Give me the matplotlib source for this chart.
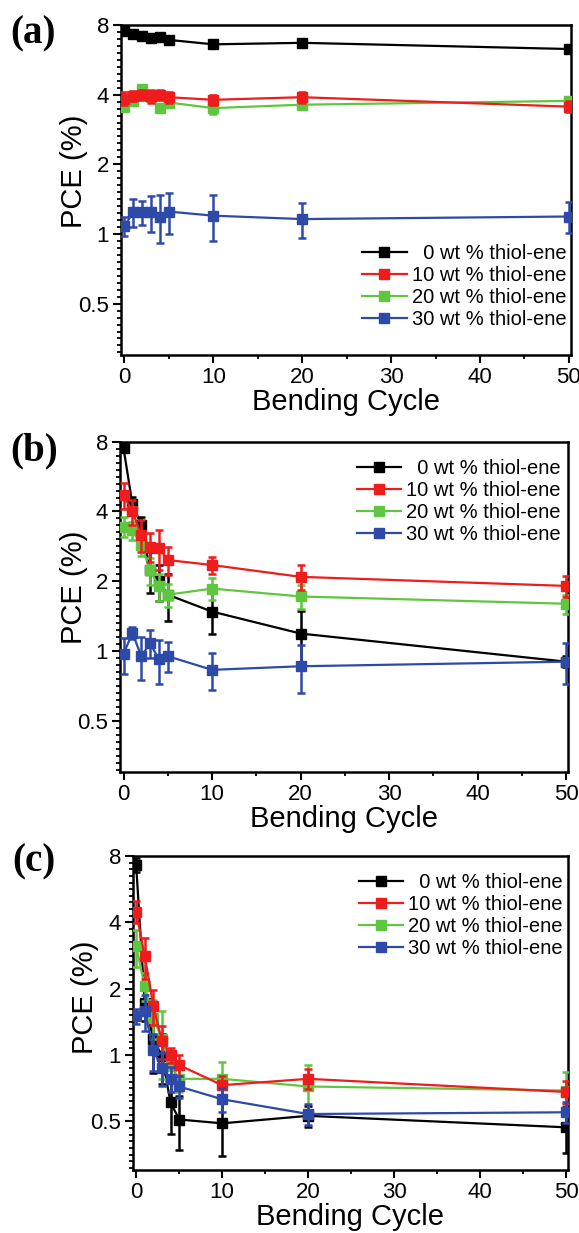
import numpy as np
import matplotlib
matplotlib.use('Agg')
import matplotlib.pyplot as plt
from matplotlib.ticker import FixedLocator, FixedFormatter, NullFormatter

plt.rcParams['font.family'] = ['Liberation Sans', 'DejaVu Sans']

# bending cycles and series labels
cycles = [0, 1, 2, 3, 4, 5, 10, 20, 50]
labels = ['  0 wt % thiol-ene', '10 wt % thiol-ene', '20 wt % thiol-ene', '30 wt % thiol-ene']
colors = ['#000000', '#ee1c1c', '#5fc640', '#2e4aa8']

# (a) PCE values and errors
pce_a0 = [7.5, 7.3, 7.2, 7.05, 7.1, 6.9, 6.6, 6.7, 6.3]
err_a0 = [0.2, 0.15, 0.15, 0.15, 0.3, 0.2, 0.25, 0.2, 0.2]
pce_a10 = [3.85, 3.95, 4.0, 3.95, 4.0, 3.9, 3.8, 3.9, 3.55]
err_a10 = [0.25, 0.2, 0.2, 0.25, 0.2, 0.2, 0.2, 0.2, 0.2]
pce_a20 = [3.55, 3.75, 4.25, 3.9, 3.5, 3.7, 3.5, 3.62, 3.76]
err_a20 = [0.15, 0.15, 0.12, 0.15, 0.15, 0.12, 0.2, 0.12, 0.15]
pce_a30 = [1.08, 1.24, 1.24, 1.24, 1.19, 1.25, 1.2, 1.16, 1.19]
err_a30 = [0.1, 0.17, 0.15, 0.22, 0.28, 0.25, 0.27, 0.2, 0.18]

# (b)
pce_b0 = [7.5, 4.3, 3.5, 2.23, 2.0, 1.75, 1.48, 1.19, 0.9]
err_b0 = [0.2, 0.3, 0.3, 0.45, 0.35, 0.4, 0.3, 0.3, 0.05]
pce_b10 = [4.7, 4.0, 3.17, 2.82, 2.78, 2.47, 2.35, 2.09, 1.91]
err_b10 = [0.6, 0.5, 0.5, 0.4, 0.55, 0.35, 0.2, 0.25, 0.2]
pce_b20 = [3.44, 3.32, 2.87, 2.23, 1.9, 1.75, 1.86, 1.72, 1.6]
err_b20 = [0.35, 0.3, 0.3, 0.3, 0.25, 0.2, 0.2, 0.2, 0.15]
pce_b30 = [0.97, 1.2, 0.95, 1.08, 0.92, 0.95, 0.83, 0.86, 0.9]
err_b30 = [0.17, 0.07, 0.2, 0.15, 0.2, 0.14, 0.15, 0.2, 0.18]

# (c)
pce_c0 = [7.3, 1.73, 1.18, 0.99, 0.61, 0.51, 0.49, 0.53, 0.47]
err_c0 = [0.5, 0.3, 0.35, 0.25, 0.17, 0.14, 0.14, 0.06, 0.11]
pce_c10 = [4.48, 2.81, 1.67, 1.16, 1.0, 0.9, 0.73, 0.78, 0.68]
err_c10 = [0.5, 0.6, 0.3, 0.2, 0.08, 0.1, 0.07, 0.08, 0.08]
pce_c20 = [3.11, 2.05, 1.48, 1.18, 0.89, 0.78, 0.78, 0.72, 0.69]
err_c20 = [0.6, 0.3, 0.3, 0.4, 0.1, 0.1, 0.15, 0.18, 0.15]
pce_c30 = [1.5, 1.58, 1.05, 0.87, 0.78, 0.72, 0.63, 0.54, 0.55]
err_c30 = [0.12, 0.3, 0.2, 0.15, 0.1, 0.08, 0.08, 0.06, 0.06]

yticks = [0.5, 1, 2, 4, 8]
ytick_labels = ['0.5', '1', '2', '4', '8']

W, H = 579, 1233
fig = plt.figure(figsize=(W / 100, H / 100), dpi=100)

# axes boxes in pixels: left, right, top, bottom
boxes = [(120.7, 570.7, 25, 355), (120, 568, 441.7, 772.3), (132.7, 568, 856, 1170.3)]
panels = [
    ('(a)', [pce_a0, pce_a10, pce_a20, pce_a30], [err_a0, err_a10, err_a20, err_a30],
     (0.99, 0.2076), 34, 10, (-0.073, 0.557)),
    ('(b)', [pce_b0, pce_b10, pce_b20, pce_b30], [err_b0, err_b10, err_b20, err_b30],
     (0.984, 0.82), 451, 10, (-0.072, 0.561)),
    ('(c)', [pce_c0, pce_c10, pce_c20, pce_c30], [err_c0, err_c10, err_c20, err_c30],
     (0.9885, 0.8117), 862, 12, (-0.0775, 0.551)),
]
# draw order: black, green, red, blue
order = [0, 2, 1, 3]

minor = [2 ** (k + i / 10.0) for k in range(-3, 3) for i in range(1, 10)]

for (l, r, t, b), (tag, vals, errs, leg_pos, tag_y, tag_x, ylab_pos) in zip(boxes, panels):
    ax = fig.add_axes([l / W, 1 - b / H, (r - l) / W, (b - t) / H])
    handles = [None] * 4
    for z, i in enumerate(order):
        ax.errorbar(cycles, vals[i], yerr=errs[i], fmt='none', ecolor=colors[i],
                    elinewidth=1.8, capsize=2.8, capthick=1.8, zorder=2 + z)
        h, = ax.plot(cycles, vals[i], '-s', color=colors[i], lw=1.6, ms=7.5,
                     label=labels[i], zorder=2.5 + z)
        handles[i] = h
    ax.set_yscale('log', base=2)
    ax.set_ylim(0.3, 8)
    ax.set_xlim(-0.4, 50.2)
    ax.yaxis.set_major_locator(FixedLocator(yticks))
    ax.yaxis.set_major_formatter(FixedFormatter(ytick_labels))
    ax.yaxis.set_minor_locator(FixedLocator(minor))
    ax.yaxis.set_minor_formatter(NullFormatter())
    ax.set_xticks([0, 10, 20, 30, 40, 50])
    ax.set_xticks([5, 15, 25, 35, 45], minor=True)
    ax.tick_params(axis='both', which='major', direction='out', length=5.5, width=1.5,
                   labelsize=16, pad=3)
    ax.tick_params(axis='both', which='minor', direction='out', length=3, width=1.3)
    for s in ax.spines.values():
        s.set_linewidth(1.8)
    ax.set_xlabel('Bending Cycle', fontsize=21, labelpad=0)
    ax.set_ylabel('PCE (%)', fontsize=21)
    ax.yaxis.set_label_coords(*ylab_pos)
    ax.legend(handles=handles, loc='center right', bbox_to_anchor=leg_pos, frameon=False,
              fontsize=14.5, handlelength=2.2, handletextpad=0.25, labelspacing=0.15,
              borderpad=0, borderaxespad=0, numpoints=1)
    fig.text(tag_x / W, 1 - tag_y / H, tag, fontsize=28, fontweight='bold',
             family='Liberation Serif', va='center', ha='left')

fig.savefig('out.png', dpi=100)
